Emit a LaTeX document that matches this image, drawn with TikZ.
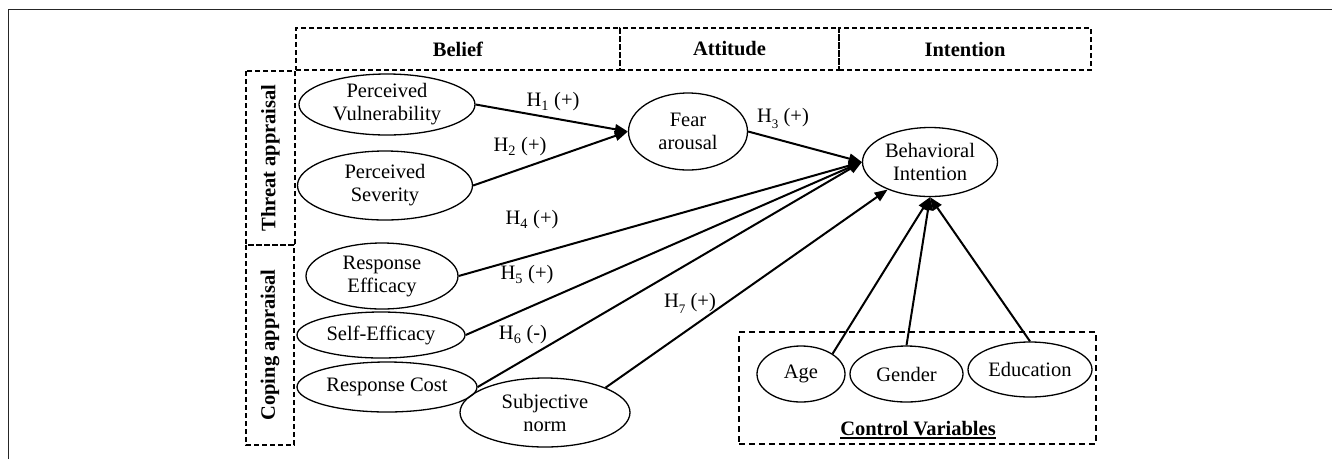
\documentclass[tikz,border=0pt]{standalone}
\usepackage{fontspec}
\setmainfont{Liberation Serif}
\usetikzlibrary{shapes.geometric,arrows.meta}
\newcommand{\lowsub}[1]{\raisebox{-6pt}{\fontsize{13}{13}\selectfont #1}}
\begin{document}
\begin{tikzpicture}[x=1pt,y=-1pt,
  every node/.style={font=\fontsize{20.5}{23}\selectfont},
  var/.style={ellipse, draw, line width=1.3pt, inner sep=0pt, align=center},
  hdr/.style={rectangle, draw, dash pattern=on 5pt off 3pt, line width=1.5pt, inner sep=0pt, font=\fontsize{20.5}{23}\selectfont\bfseries},
  ctrlbox/.style={rectangle, draw, dash pattern=on 6pt off 4pt, line width=1.2pt, inner sep=0pt},
  lbl/.style={inner sep=0pt},
  link/.style={line width=2pt, -{Triangle[length=13pt,width=10pt]}},
  frameline/.style={line width=1.6pt, draw=black!85}
]
\useasboundingbox (0,0) rectangle (1332,459);
% outer frame lines
\coordinate (fc) at (8.5,9.5);
\coordinate (fr) at (1332,9.5);
\coordinate (fb) at (8.5,459);
\draw[frameline] (fb) -- (fc) -- (fr);

% headers
\node[hdr, minimum width=324pt, minimum height=42pt] (belief) at (458,49) {Belief};
\node[hdr, minimum width=219pt, minimum height=42pt] (attitude) at (729.5,49) {Attitude};
\node[hdr, minimum width=252pt, minimum height=42pt] (intention) at (965,49) {Intention};
\node[hdr, rotate=90, minimum width=174pt, minimum height=49pt] (threat) at (270.5,158) {Threat appraisal};
\node[hdr, rotate=90, minimum width=200pt, minimum height=48pt] (coping) at (270,345) {Coping appraisal};

% control box
\node[ctrlbox, minimum width=357pt, minimum height=112pt] (ctrl) at (917.5,388) {};

% variables
\node[var, minimum width=176pt, minimum height=61pt] (pv) at (387,104.5) {Perceived\\Vulnerability};
\node[var, minimum width=175pt, minimum height=69pt] (ps) at (385,185.5) {Perceived\\Severity};
\node[var, minimum width=119pt, minimum height=77pt] (fear) at (688,131.5) {Fear\\arousal};
\node[var, minimum width=135pt, minimum height=69pt] (bi) at (930,162) {Behavioral\\Intention};
\node[var, minimum width=152pt, minimum height=66pt] (re) at (382,276) {Response\\Efficacy};
\node[var, minimum width=168pt, minimum height=46pt] (se) at (381,335) {Self-Efficacy};
\node[var, minimum width=180pt, minimum height=50pt] (rc) at (387,387) {Response Cost};
\node[var, minimum width=170pt, minimum height=69pt] (sn) at (545,412.5) {Subjective\\norm};
\node[var, minimum width=88pt, minimum height=56pt] (age) at (801,374) {Age};
\node[var, minimum width=113pt, minimum height=56pt] (gender) at (906.5,374) {Gender};
\node[var, minimum width=124pt, minimum height=55pt] (edu) at (1030,369.5) {Education};

% control label
\node[lbl, anchor=base, font=\fontsize{20.5}{23}\selectfont\bfseries] (cvl) at (918,435) {Control Variables};
\draw[line width=2.2pt] ([yshift=-3pt]cvl.base west) -- ([yshift=-3pt]cvl.base east);

% connectors
\draw[link] (pv.east) -- (fear.west);
\draw[link] (ps.east) -- (fear.west);
\draw[link] (fear.east) -- (bi.west);
\draw[link] (re.east) -- (bi.west);
\draw[link] (se.east) -- (bi.west);
\draw[link] (rc.east) -- (bi.west);
\draw[link] (sn.north east) -- (bi.213);
\draw[link] (age.north east) -- (bi.south);
\draw[link] (gender.north) -- (bi.south);
\draw[link] (edu.north) -- (bi.south);

% hypothesis labels
\node[lbl] (h1) at (553,102) {H\textsubscript{1} (+)};
\node[lbl] (h2) at (520,147) {H\textsubscript{2} (+)};
\node[lbl, anchor=base] (h3) at (783,122) {H\lowsub{3} (+)};
\node[lbl] (h4) at (532,220) {H\textsubscript{4} (+)};
\node[lbl] (h5) at (527,275) {H\textsubscript{5} (+)};
\node[lbl] (h6) at (523,335) {H\textsubscript{6} (-)};
\node[lbl, anchor=base] (h7) at (690,307) {H\lowsub{7} (+)};
\end{tikzpicture}
\end{document}
